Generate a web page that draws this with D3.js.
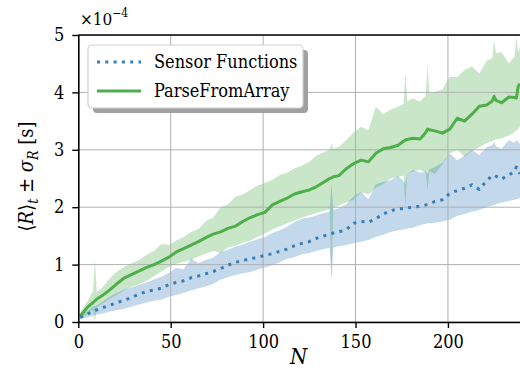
<!DOCTYPE html>
<html>
<head>
<meta charset="utf-8">
<script src="https://cdn.jsdelivr.net/npm/d3@7"></script>
<style>
  body { margin: 0; background: #fff; }
</style>
</head>
<body>
<div id="chart"></div>
<script>
// N values (x)
const nVals = [1,5,8,9,10,13,17,21,25,29,33,37,41,45,49,53,57,61,65,69,73,77,81,85,89,93,97,101,105,109,113,117,
  121,125,129,133,136,137,138,141,145,149,153,157,161,165,169,173,176,177,178,181,185,188,189,190,193,197,201,205,209,213,217,221,224,225,226,229,233,236,237,238,239];

// Sensor Functions, in units of 1e-4 s
const sensorMean = [0.08,0.14,0.19,0.20,0.21,0.25,0.29,0.34,0.38,0.43,0.49,0.53,0.56,0.59,0.65,0.69,0.72,0.77,0.80,0.84,0.88,0.93,
  0.99,1.04,1.07,1.10,1.13,1.16,1.19,1.23,1.27,1.33,1.37,1.40,1.46,1.50,1.53,1.54,1.55,1.57,1.61,1.72,1.75,1.74,
  1.80,1.88,1.94,1.97,1.98,1.98,1.99,2.00,2.02,2.04,2.05,2.06,2.10,2.13,2.24,2.29,2.33,2.39,2.31,2.46,2.55,2.56,2.54,2.49,2.56,2.62,2.70,2.64,2.58];
const sensorHi = [0.10,0.19,0.27,0.28,0.29,0.35,0.44,0.51,0.57,0.60,0.65,0.69,0.74,0.79,0.86,0.94,0.92,1.10,1.03,1.08,1.12,1.22,
  1.26,1.31,1.35,1.40,1.44,1.48,1.55,1.60,1.66,1.74,1.80,1.82,1.86,1.90,1.92,2.42,1.95,1.98,2.05,2.19,2.27,2.14,
  2.40,2.44,2.47,2.55,2.45,2.40,2.58,2.65,2.60,2.62,2.58,2.66,2.70,2.78,2.94,2.82,2.90,3.00,2.91,3.05,3.08,3.14,3.06,3.02,3.17,3.12,3.17,3.14,3.10];
const sensorLo = [0.05,0.08,0.11,0.12,0.13,0.15,0.18,0.21,0.23,0.27,0.31,0.34,0.37,0.39,0.44,0.47,0.51,0.55,0.59,0.62,0.66,0.74,
  0.78,0.82,0.85,0.87,0.91,0.95,0.99,1.04,1.10,1.13,1.18,1.20,1.24,1.27,1.29,0.73,1.30,1.32,1.34,1.37,1.40,1.43,
  1.48,1.52,1.57,1.60,1.61,1.62,1.63,1.64,1.69,1.71,1.72,1.72,1.73,1.75,1.78,1.85,1.88,1.92,1.95,2.00,2.03,2.04,2.05,2.08,2.11,2.13,2.14,2.15,2.16];

// ParseFromArray, in units of 1e-4 s
const parseMean = [0.10,0.26,0.34,0.37,0.40,0.46,0.56,0.67,0.77,0.83,0.89,0.95,1.00,1.06,1.13,1.22,1.28,1.34,1.40,1.47,1.53,1.57,
  1.63,1.67,1.75,1.82,1.87,1.91,2.04,2.10,2.16,2.23,2.27,2.30,2.36,2.44,2.50,2.51,2.53,2.55,2.67,2.76,2.82,2.79,
  2.94,3.02,3.04,3.08,3.15,3.17,3.18,3.20,3.19,3.30,3.36,3.35,3.33,3.29,3.36,3.55,3.50,3.62,3.76,3.78,3.85,3.93,3.86,3.82,3.92,3.91,3.90,4.10,4.15];
const parseHi = [0.16,0.36,0.55,1.10,0.52,0.60,0.76,0.88,0.96,1.03,1.08,1.17,1.24,1.36,1.34,1.42,1.48,1.57,1.62,1.76,1.82,2.00,
  2.05,2.18,2.22,2.30,2.38,2.42,2.48,2.56,2.60,2.68,2.72,2.79,2.90,2.96,3.00,3.10,3.02,3.05,3.17,3.30,3.40,3.34,
  3.75,3.62,3.70,3.75,3.80,4.36,3.85,3.90,3.84,3.95,4.48,3.98,4.01,4.05,4.27,4.27,4.39,4.45,4.33,4.55,4.60,4.91,4.68,4.70,4.51,4.62,4.97,4.70,4.80];
const parseLo = [0.05,0.14,0.22,0.00,0.26,0.32,0.40,0.48,0.56,0.61,0.66,0.72,0.80,0.88,0.96,1.01,1.05,1.08,1.14,1.19,1.24,1.20,
  1.30,1.33,1.38,1.42,1.48,1.54,1.61,1.67,1.72,1.77,1.82,1.86,1.90,1.94,1.97,0.75,1.99,2.03,2.08,2.13,2.26,2.22,
  2.34,2.40,2.50,2.53,2.55,2.01,2.58,2.62,2.65,2.60,2.30,2.62,2.58,2.75,2.94,3.00,2.88,2.98,3.05,3.12,3.15,3.17,3.18,3.20,3.25,3.30,3.34,3.36,3.40];

const xTicks = [0, 50, 100, 150, 200];
const yTicks = [0, 1, 2, 3, 4, 5];

const series = [
  {name: 'Sensor Functions', color: '#377eb8', mean: sensorMean, lo: sensorLo, hi: sensorHi, dash: '3,5.3'},
  {name: 'ParseFromArray', color: '#4daf4a', mean: parseMean, lo: parseLo, hi: parseHi, dash: null}
];

const FONT = '"DejaVu Serif Condensed", "DejaVu Serif", serif';

const width = 520, height = 385;
const margin = {left: 78.3, right: 0, top: 35, bottom: 63};

const svg = d3.select('#chart').append('svg')
  .attr('width', width)
  .attr('height', height)
  .style('font-family', FONT);

const x = d3.scaleLinear().domain([0, 239]).range([margin.left, width - margin.right]);
const y = d3.scaleLinear().domain([0, 5]).range([height - margin.bottom, margin.top]);

svg.append('clipPath').attr('id', 'plotclip')
  .append('rect')
  .attr('x', margin.left).attr('y', margin.top)
  .attr('width', width - margin.left - margin.right)
  .attr('height', height - margin.top - margin.bottom);

const plot = svg.append('g').attr('clip-path', 'url(#plotclip)');

// shaded bands (below the grid, as in matplotlib)
const area = d3.area()
  .x((d, i) => x(nVals[i]))
  .y0(d => y(d[0]))
  .y1(d => y(d[1]));

series.slice().reverse().forEach(s => {
  plot.append('path')
    .datum(s.lo.map((v, i) => [v, s.hi[i]]))
    .attr('d', area)
    .attr('fill', s.color)
    .attr('fill-opacity', 0.3);
});

// grid
plot.append('g')
  .selectAll('line')
  .data(xTicks)
  .join('line')
  .attr('x1', d => x(d)).attr('x2', d => x(d))
  .attr('y1', y(0)).attr('y2', y(5))
  .attr('stroke', '#b0b0b0').attr('stroke-width', 1);

plot.append('g')
  .selectAll('line')
  .data(yTicks)
  .join('line')
  .attr('x1', x(0)).attr('x2', width)
  .attr('y1', d => y(d)).attr('y2', d => y(d))
  .attr('stroke', '#b0b0b0').attr('stroke-width', 1);

// mean lines
const line = d3.line()
  .x((d, i) => x(nVals[i]))
  .y(d => y(d));

series.slice().reverse().forEach(s => {
  plot.append('path')
    .datum(s.mean)
    .attr('d', line)
    .attr('fill', 'none')
    .attr('stroke', s.color)
    .attr('stroke-width', 3)
    .attr('stroke-linejoin', 'round')
    .attr('stroke-dasharray', s.dash);
});

// axes
const xAxis = svg.append('g')
  .attr('transform', `translate(0,${y(0)})`)
  .call(d3.axisBottom(x).tickValues(xTicks).tickSize(6).tickPadding(7).tickFormat(d3.format('d')));

const yAxis = svg.append('g')
  .attr('transform', `translate(${x(0)},0)`)
  .call(d3.axisLeft(y).tickValues(yTicks).tickSize(6).tickPadding(8).tickFormat(d3.format('d')));

[xAxis, yAxis].forEach(g => {
  g.attr('font-family', null).attr('font-size', null);
  g.selectAll('.domain').attr('stroke', '#000').attr('stroke-width', 1.6);
  g.selectAll('.tick line').attr('stroke', '#000').attr('stroke-width', 1.4);
  g.selectAll('.tick text')
    .attr('font-size', 18)
    .attr('fill', '#000');
});
xAxis.select('.domain').attr('d', `M${x(0)},0.5H${width}`);
yAxis.select('.domain').attr('d', `M0.5,${y(0)}V${y(5)}`);

// top spine
svg.append('line')
  .attr('x1', x(0)).attr('x2', width)
  .attr('y1', y(5)).attr('y2', y(5))
  .attr('stroke', '#000').attr('stroke-width', 1.6);

// offset text
const off = svg.append('text')
  .attr('x', 80).attr('y', 25)
  .attr('font-size', 17);
off.append('tspan').text('×10');
off.append('tspan').attr('dy', -8).attr('font-size', 12).text('−4');

// axis labels
svg.append('text')
  .attr('x', (x(0) + width) / 2 - 0.5)
  .attr('y', 364)
  .attr('text-anchor', 'middle')
  .attr('font-size', 22)
  .attr('font-style', 'italic')
  .text('N');

const yl = svg.append('text')
  .attr('transform', `translate(33,${(y(0) + y(5)) / 2 - 2}) rotate(-90)`)
  .attr('text-anchor', 'middle')
  .attr('font-size', 20);
yl.append('tspan').text('⟨');
yl.append('tspan').attr('font-style', 'italic').text('R');
yl.append('tspan').text('⟩');
yl.append('tspan').attr('dy', 5).attr('font-size', 14).attr('font-style', 'italic').text('t');
yl.append('tspan').attr('dy', -5).text(' ± ');
yl.append('tspan').attr('font-style', 'italic').text('σ');
yl.append('tspan').attr('dy', 5).attr('font-size', 14).attr('font-style', 'italic').text('R');
yl.append('tspan').attr('dy', -5).text(' [s]');

// legend
const lg = svg.append('g').attr('transform', 'translate(88,45)');
const lw = 215, lh = 63;
lg.append('rect')
  .attr('x', 5).attr('y', 5)
  .attr('width', lw).attr('height', lh)
  .attr('rx', 4)
  .attr('fill', '#a0a0a0');
lg.append('rect')
  .attr('width', lw).attr('height', lh)
  .attr('rx', 4)
  .attr('fill', '#fff')
  .attr('stroke', '#d0d0d0')
  .attr('stroke-width', 1.2);

const items = lg.selectAll('g')
  .data(series)
  .join('g')
  .attr('transform', (d, i) => `translate(0,${17 + i * 29})`);
items.append('line')
  .attr('x1', 9).attr('x2', 53)
  .attr('stroke', d => d.color)
  .attr('stroke-width', 3)
  .attr('stroke-dasharray', d => d.dash);
items.append('text')
  .attr('x', 66).attr('y', 6)
  .attr('font-size', 18)
  .text(d => d.name);
</script>
</body>
</html>
